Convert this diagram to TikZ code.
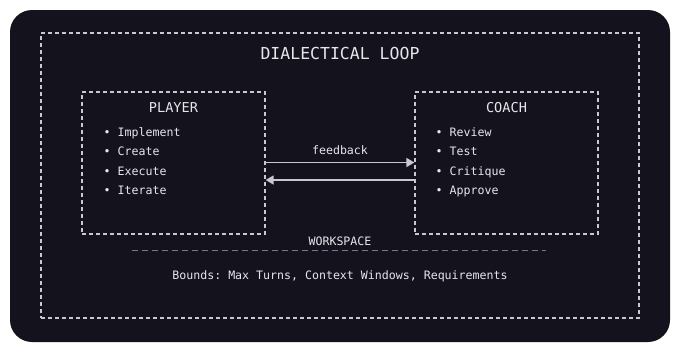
\documentclass[tikz,border=0pt]{standalone}
\usepackage{fontspec}
\setmonofont{DejaVu Sans Mono}
\usetikzlibrary{arrows.meta,positioning}
\definecolor{LoopBg}{HTML}{14131D}
\definecolor{LoopInk}{HTML}{E6E6EC}
\definecolor{LoopLine}{HTML}{C8C8D0}
\definecolor{LoopDim}{HTML}{77778A}

\begin{document}
\begin{tikzpicture}[x=1pt,y=-1pt,
  dashbox/.style={draw=LoopLine,line width=1.2pt,dash pattern=on 4pt off 3pt,inner sep=0pt},
  heading/.style={text=LoopInk,font=\ttfamily\fontsize{13.6}{16}\selectfont},
  item/.style={text=LoopInk,font=\ttfamily\fontsize{11.6}{14}\selectfont,anchor=west,inner sep=0pt,text height=8.5pt,text depth=2.5pt},
  flow/.style={draw=LoopLine,line width=1.5pt,-{Triangle[length=8pt,width=9pt]}}]
\useasboundingbox (0,0) rectangle (680,351);
\fill[white] (0,0) rectangle (680,351);
\fill[LoopBg,rounded corners=22pt] (10,10) rectangle (670,342);

% outer loop
\node[dashbox,minimum width=598pt,minimum height=285pt] (loop) at (340,175.5) {};
\node[heading,font=\ttfamily\fontsize{16.5}{20}\selectfont] (looptitle) at (340,53) {DIALECTICAL LOOP};

% player and coach
\node[dashbox,minimum width=183pt,minimum height=142pt] (player) at (173.5,163) {};
\node[dashbox,minimum width=183pt,minimum height=142pt] (coach) at (506.5,163) {};
\node[heading] (playertitle) at (173.5,108) {PLAYER};
\node[heading] (coachtitle) at (506.5,108) {COACH};
\foreach \t [count=\i] in {Implement,Create,Execute,Iterate}
  \node[item] (p\i) at (103.5,{133.5+19.3*(\i-1)}) {•\ \t};
\foreach \t [count=\i] in {Review,Test,Critique,Approve}
  \node[item] (c\i) at (435.5,{133.5+19.3*(\i-1)}) {•\ \t};

% exchange
\draw[flow] ([yshift=0.5pt]player.east) -- node[above=5pt,item,anchor=south] (fb) {feedback} ([yshift=0.5pt]coach.west);
\draw[flow] ([yshift=-17pt]coach.west) -- ([yshift=-17pt]player.east);

% workspace
\node[item,anchor=center] (ws) at (340,242) {WORKSPACE};
\coordinate (wsl) at (132,250);
\coordinate (wsr) at (546,250);
\draw[LoopDim,line width=1pt,dash pattern=on 6pt off 4pt] (wsl) -- (wsr);
\node[item,anchor=center] (bounds) at (340,276) {Bounds: Max Turns, Context Windows, Requirements};
\end{tikzpicture}
\end{document}
